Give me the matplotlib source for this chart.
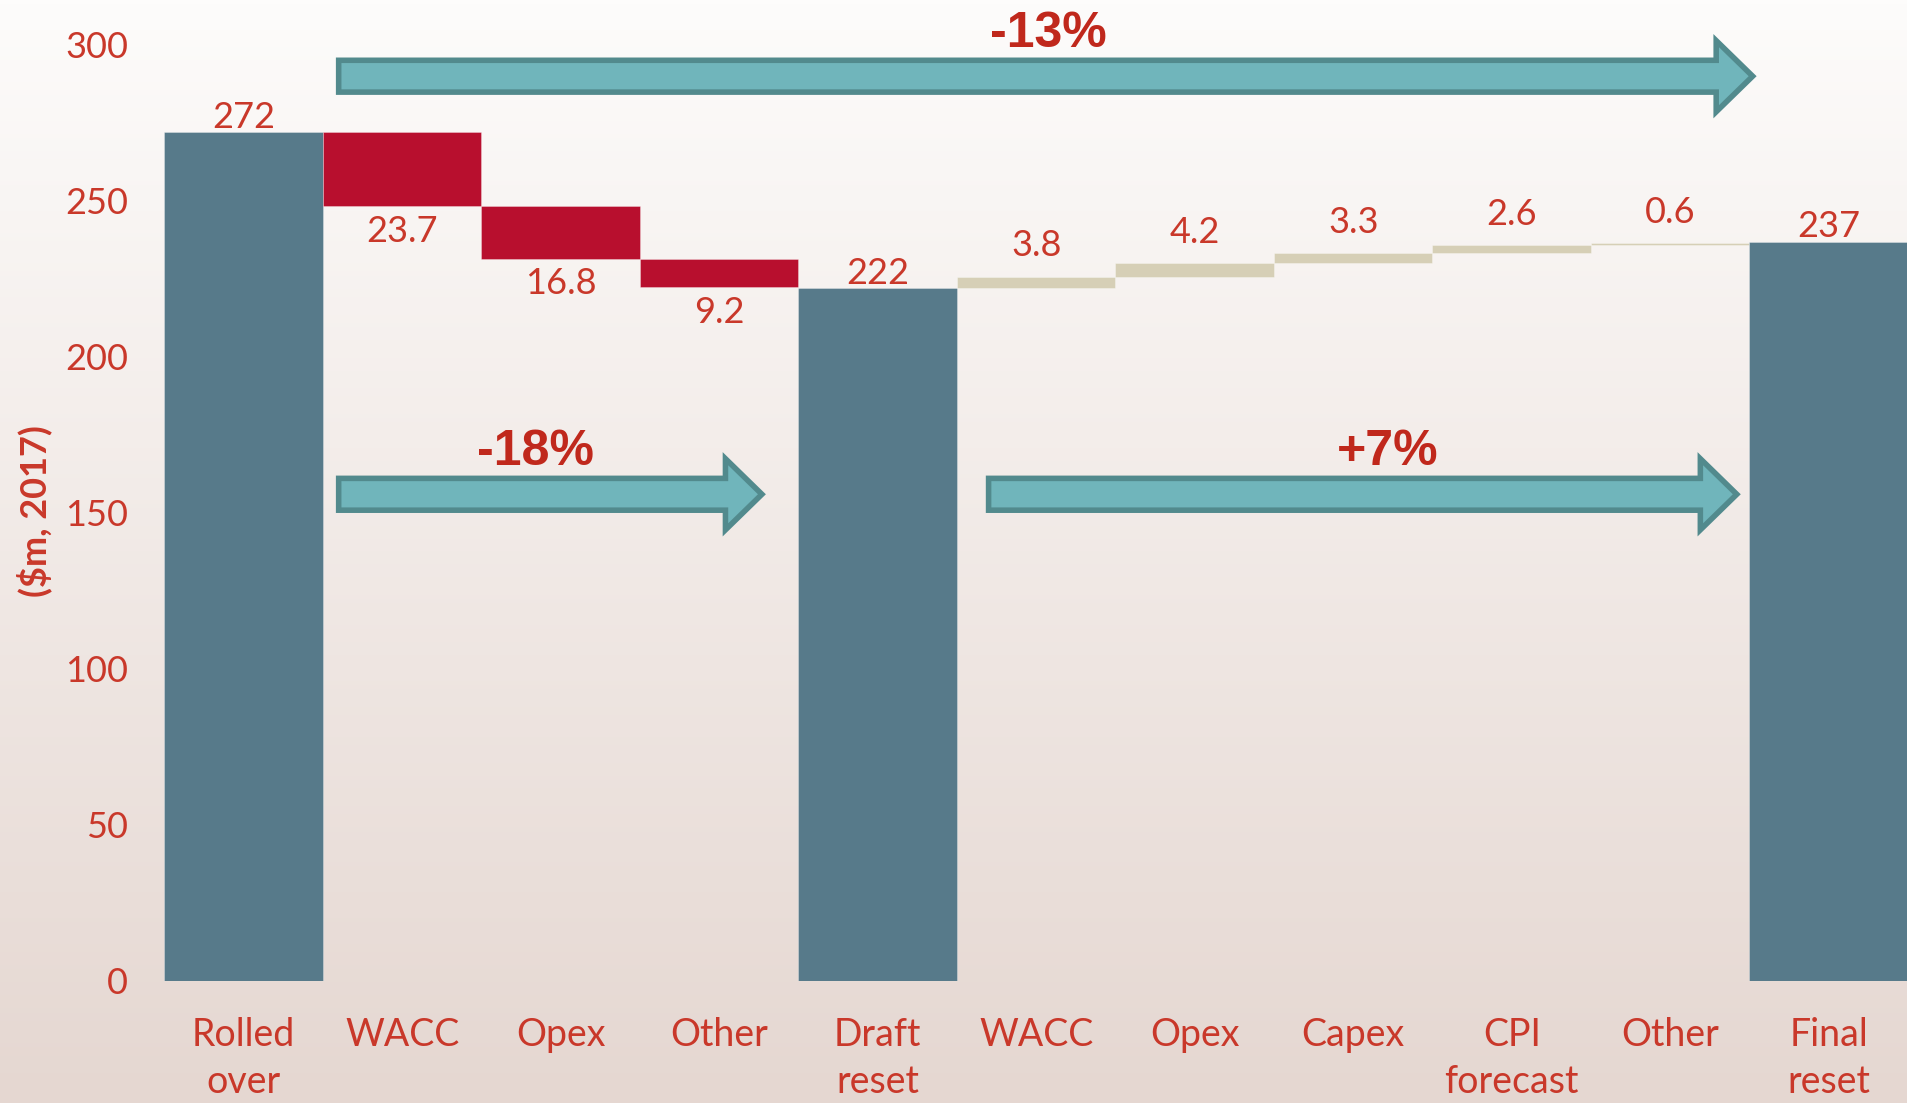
import numpy as np
import matplotlib
matplotlib.use("Agg")
import matplotlib.pyplot as plt
from matplotlib.patches import Polygon

# ---- data ----
categories = ["Rolled\nover", "WACC", "Opex", "Other", "Draft\nreset",
              "WACC", "Opex", "Capex", "CPI\nforecast", "Other", "Final\nreset"]
values = [272, -23.7, -16.8, -9.2, 222, 3.8, 4.2, 3.3, 2.6, 0.6, 237]
kinds = ["total", "delta", "delta", "delta", "total",
         "delta", "delta", "delta", "delta", "delta", "total"]
value_labels = ["272", "23.7", "16.8", "9.2", "222", "3.8", "4.2", "3.3", "2.6", "0.6", "237"]
yticks = [0, 50, 100, 150, 200, 250, 300]

# change arrows: (x start, x tip, y), label text, label x
arrow_spans = [(0.6, 9.52, 290), (0.6, 3.27, 156), (4.7, 9.42, 156)]
arrow_texts = ["-13%", "-18%", "+7%"]
arrow_text_x = [5.08, 1.84, 7.22]

# ---- styles ----
TOTAL_C = "#577A8A"
DOWN_C = "#B80F2E"
UP_C = "#D6CFB6"
TXT_C = "#C9382A"
PCT_C = "#C0281C"
ARROW_FILL = "#70B5BB"
ARROW_EDGE = "#528A8D"

W, H, DPI = 1908, 1103, 100
fig = plt.figure(figsize=(W / DPI, H / DPI), dpi=DPI)

# background gradient
bg = fig.add_axes([0, 0, 1, 1], zorder=-10)
top = np.array([253, 252, 251]) / 255
bot = np.array([229, 215, 209]) / 255
t = np.linspace(0, 1, 256)[:, None]
grad = top[None, :] * (1 - t) + bot[None, :] * t
bg.imshow(grad[:, None, :], aspect="auto", extent=[0, 1, 0, 1])
bg.axis("off")

left_px, bottom_px, axh_px = 164.3, 122, 936
ax = fig.add_axes([left_px / W, bottom_px / H, 1 - left_px / W, axh_px / H])
ax.set_facecolor("none")

x = np.arange(len(categories))
bottoms, heights, colors = [], [], []
running = 0.0
for v, k in zip(values, kinds):
    if k == "total":
        bottoms.append(0)
        heights.append(v)
        colors.append(TOTAL_C)
        running = v
    else:
        bottoms.append(running + min(0, v))
        heights.append(abs(v))
        colors.append(DOWN_C if v < 0 else UP_C)
        running += v

ax.bar(x, heights, bottom=bottoms, width=1.0, color=colors, linewidth=0.6,
       edgecolor=[(1, 1, 1, 0.35)] * len(x), zorder=2)

for i, (v, k, lab) in enumerate(zip(values, kinds, value_labels)):
    b, h = bottoms[i], heights[i]
    if k == "total":
        y, off = b + h, 11
    elif v > 0:
        y, off = b + h, 22
    else:
        y, off = b, -18
    ax.annotate(lab, (x[i], y), xytext=(0, off), textcoords="offset points",
                ha="center", va="center", fontsize=26, color=TXT_C,
                family="Lato", annotation_clip=False)

# arrows
body_h = 5.1
head_h = 11.4
head_len = 0.23
for (xs, xt, yc), txt, tx in zip(arrow_spans, arrow_texts, arrow_text_x):
    hb = xt - head_len
    pts = [(xs, yc - body_h), (hb, yc - body_h), (hb, yc - head_h), (xt, yc),
           (hb, yc + head_h), (hb, yc + body_h), (xs, yc + body_h)]
    poly = Polygon(pts, closed=True, facecolor=ARROW_FILL, edgecolor=ARROW_EDGE,
                   linewidth=4, joinstyle="miter", clip_on=False, zorder=3)
    ax.add_patch(poly)
    ax.text(tx, yc + 13.5, txt, ha="center", va="center", fontsize=36,
            fontweight="bold", color=PCT_C, family="Liberation Sans",
            clip_on=False, zorder=4)

ax.set_xlim(-0.5, 10.5)
ax.set_ylim(0, 300)
ax.set_yticks(yticks)
ax.set_yticklabels([str(v) for v in yticks], fontsize=26, color=TXT_C, family="Lato")
ax.set_xticks(x)
ax.set_xticklabels(categories, fontsize=27, color=TXT_C, family="Lato",
                   linespacing=1.36)
ax.tick_params(axis="y", length=0, pad=26)
ax.tick_params(axis="x", length=0, pad=26)
for s in ax.spines.values():
    s.set_visible(False)

fig.text(34 / W, 1 - 511 / H, "($m, 2017)", rotation=90, ha="center", va="center",
         fontsize=26, fontweight="bold", color=TXT_C, family="Lato")

fig.savefig("out.png", dpi=DPI)
